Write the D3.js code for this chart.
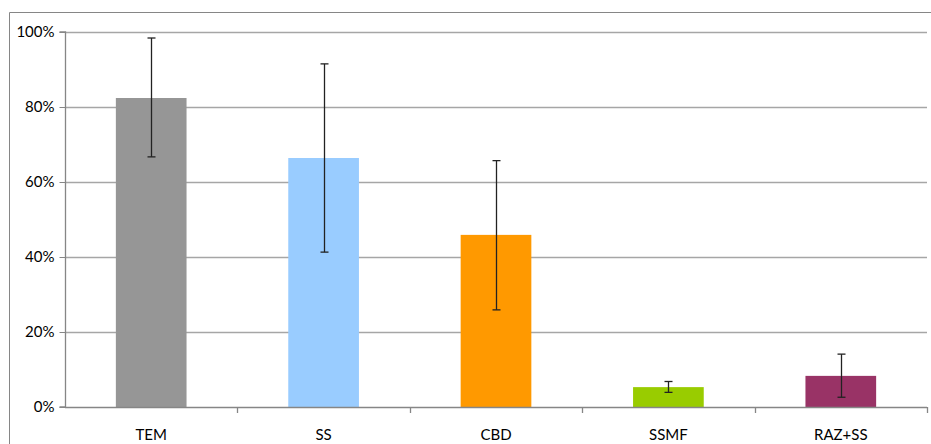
<!DOCTYPE html>
<html>
<head>
<meta charset="utf-8">
<script src="https://cdn.jsdelivr.net/npm/d3@7"></script>
<style>
  html, body { margin: 0; padding: 0; background: #fff; }
  svg { display: block; }
  text { font-family: Lato, "Open Sans", sans-serif; fill: #000; }
</style>
</head>
<body>
<svg id="chart" width="931" height="444"></svg>
<script>
const categories = ["TEM", "SS", "CBD", "SSMF", "RAZ+SS"];
const means = [82.4, 66.4, 45.9, 5.3, 8.3];
const errLow = [66.7, 41.3, 25.9, 3.9, 2.6];
const errHigh = [98.4, 91.5, 65.7, 6.8, 14.1];
const colors = ["#969696", "#99ccff", "#ff9900", "#99cc00", "#993366"];
const yTicks = [0, 20, 40, 60, 80, 100];

const svg = d3.select("#chart");
const margin = { left: 65, right: 4, top: 32, bottom: 37 };
const W = 931, H = 444;

// outer chart frame
svg.append("path")
  .attr("d", `M9.5,${H + 2} V12.5 H${W + 2}`)
  .attr("fill", "none").attr("stroke", "#868686").attr("stroke-width", 1);

const x = d3.scaleBand().domain(categories)
  .range([margin.left, 927]).paddingInner(0.59).paddingOuter(0.295);
const xOuter = d3.scaleBand().domain(categories).range([margin.left, 927]);
const y = d3.scaleLinear().domain([0, 100]).range([407, 32]);

// gridlines
svg.append("g").selectAll("line").data(yTicks.filter(t => t > 0)).join("line")
  .attr("x1", margin.left).attr("x2", 927)
  .attr("y1", d => Math.round(y(d)) + 0.5).attr("y2", d => Math.round(y(d)) + 0.5)
  .attr("stroke", "#a6a6a6").attr("stroke-width", 1.3);

// bars
svg.append("g").selectAll("rect").data(categories).join("rect")
  .attr("x", d => x(d))
  .attr("width", x.bandwidth())
  .attr("y", (d, i) => y(means[i]))
  .attr("height", (d, i) => y(0) - y(means[i]))
  .attr("fill", (d, i) => colors[i]);

// error bars
const eb = svg.append("g").attr("stroke", "#222").attr("stroke-width", 1.3);
categories.forEach((c, i) => {
  const cx = Math.round(x(c) + x.bandwidth() / 2) + 0.5;
  eb.append("line").attr("x1", cx).attr("x2", cx).attr("y1", y(errLow[i])).attr("y2", y(errHigh[i]));
  [errLow[i], errHigh[i]].forEach(v => {
    eb.append("line").attr("x1", cx - 4).attr("x2", cx + 4).attr("y1", y(v)).attr("y2", y(v));
  });
});

// y axis
const yAxis = svg.append("g").attr("transform", `translate(${margin.left + 0.5},0)`)
  .call(d3.axisLeft(y).tickValues(yTicks).tickFormat(d => d + "%").tickSize(6).tickPadding(5));
yAxis.select(".domain").attr("stroke", "#868686").attr("d", `M-6,${y(100)}H0V${y(0)}H-6`).attr("stroke-width", 1.3);
yAxis.selectAll(".tick line").attr("stroke", "#868686");
yAxis.selectAll(".tick text").style("font-size", "15px").style("font-family", "Lato, sans-serif").attr("fill", "#000");

// x axis
const xAxis = svg.append("g").attr("transform", `translate(0,${Math.round(y(0)) + 0.5})`)
  .call(d3.axisBottom(xOuter).tickSize(0).tickPadding(22));
xAxis.select(".domain").attr("stroke", "#868686").attr("stroke-width", 1.3)
  .attr("d", `M${margin.left},0H927`);
xAxis.selectAll(".tick text").style("font-size", "15px").style("font-family", "Lato, sans-serif").attr("fill", "#000");
// category separator ticks
svg.append("g").selectAll("line").data(categories).join("line")
  .attr("x1", d => Math.round(xOuter(d) + xOuter.bandwidth()) + 0.5)
  .attr("x2", d => Math.round(xOuter(d) + xOuter.bandwidth()) + 0.5)
  .attr("y1", Math.round(y(0))).attr("y2", Math.round(y(0)) + 6)
  .attr("stroke", "#868686").attr("stroke-width", 1.3);
</script>
</body>
</html>
